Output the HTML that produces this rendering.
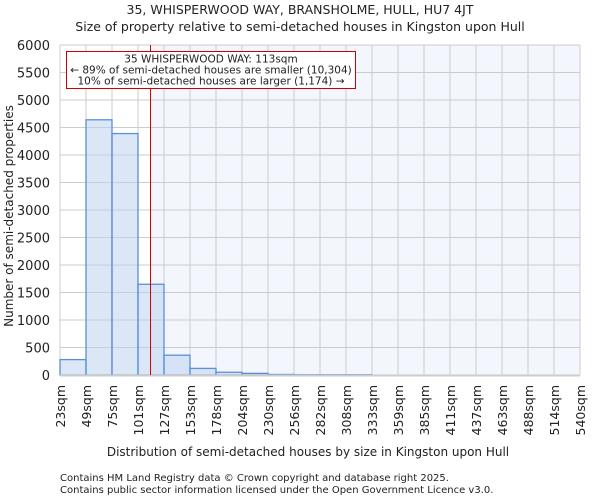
<!DOCTYPE html>
<html><head><meta charset="utf-8"><style>
body{margin:0;background:#fff;font-family:"DejaVu Sans","Liberation Sans",sans-serif;}
svg text{font-family:"DejaVu Sans","Liberation Sans",sans-serif;fill:#222}
</style></head><body>
<svg id="chart" width="600" height="500" xmlns="http://www.w3.org/2000/svg">
<text x="300" y="14" font-size="12.5" text-anchor="middle">35, WHISPERWOOD WAY, BRANSHOLME, HULL, HU7 4JT</text>
<text x="300" y="31" font-size="12.5" text-anchor="middle">Size of property relative to semi-detached houses in Kingston upon Hull</text>
<g id="plot"></g>
<text x="308" y="456" font-size="12" text-anchor="middle">Distribution of semi-detached houses by size in Kingston upon Hull</text>
<text transform="translate(13,216) rotate(-90)" font-size="12" text-anchor="middle">Number of semi-detached properties</text>
<text x="60" y="481" font-size="10">Contains HM Land Registry data © Crown copyright and database right 2025.</text>
<text x="60" y="493" font-size="10">Contains public sector information licensed under the Open Government Licence v3.0.</text>
</svg>
<script>
const binLabels=["23sqm","49sqm","75sqm","101sqm","127sqm","153sqm","178sqm","204sqm","230sqm","256sqm","282sqm","308sqm","333sqm","359sqm","385sqm","411sqm","437sqm","463sqm","488sqm","514sqm","540sqm"];
const counts=[280,4640,4390,1650,360,120,50,30,10,5,5,5,0,0,0,0,0,0,0,0];
const yTicks=[0,500,1000,1500,2000,2500,3000,3500,4000,4500,5000,5500,6000];
const subjectSize=113;
const minSize=23, binSize=25.85;
const X0=60,X1=580,Y0=375,Y1=45,YMAX=6000;
const bw=(X1-X0)/counts.length;
const xb=i=>X0+i*bw;
const xv=v=>X0+(v-minSize)/binSize*bw;
const y=v=>Y0-(v/YMAX)*(Y0-Y1);
const NS="http://www.w3.org/2000/svg";
const g=document.getElementById('plot');
function mk(t,a){const e=document.createElementNS(NS,t);for(const k in a)e.setAttribute(k,a[k]);g.appendChild(e);return e;}
const xs=xv(subjectSize);
let e=mk('rect',{x:X0,y:Y1,width:xs-X0,height:Y0-Y1,fill:'#ffffff'});


e=mk('rect',{x:xs,y:Y1,width:X1-xs,height:Y0-Y1,fill:'#f3f6fd'});


yTicks.forEach(t=>{
 e=mk('line',{x1:X0,x2:X1,y1:y(t),y2:y(t),stroke:'#cccccc','stroke-width':1});
 
 
 e=mk('text',{x:X0-10,y:y(t)+5,'font-size':13,'text-anchor':'end'});e.textContent=t;
 
 
});
binLabels.forEach((l,i)=>{
 e=mk('line',{x1:xb(i),x2:xb(i),y1:Y1,y2:Y0,stroke:'#cccccc','stroke-width':1});
 
 
 e=mk('text',{transform:`translate(${xb(i)+5},${Y0+10}) rotate(-90)`,'font-size':12.5,'text-anchor':'end'});e.textContent=l;
 
 
});
counts.forEach((c,i)=>{
 if(c<=0)return;
 e=mk('rect',{x:xb(i),y:y(c),width:bw,height:Y0-y(c),fill:'rgba(190,210,238,0.55)',stroke:'#5b8fd6','stroke-width':1.3});
 
 
});
e=mk('line',{x1:X0,x2:X1,y1:Y0+0.5,y2:Y0+0.5,stroke:'#cccccc','stroke-width':2});


e=mk('line',{x1:xs,x2:xs,y1:Y1,y2:Y0,stroke:'#cc0000','stroke-width':1});


e=mk('rect',{x:66.5,y:51.5,width:289,height:37,fill:'#fff',stroke:'#cc0000','stroke-width':1});


["35 WHISPERWOOD WAY: 113sqm","← 89% of semi-detached houses are smaller (10,304)","10% of semi-detached houses are larger (1,174) →"].forEach((s,i)=>{
 e=mk('text',{x:211,y:62.5+i*11,'font-size':10.5,'text-anchor':'middle'});e.textContent=s;
 
 
});
</script>
</body></html>
